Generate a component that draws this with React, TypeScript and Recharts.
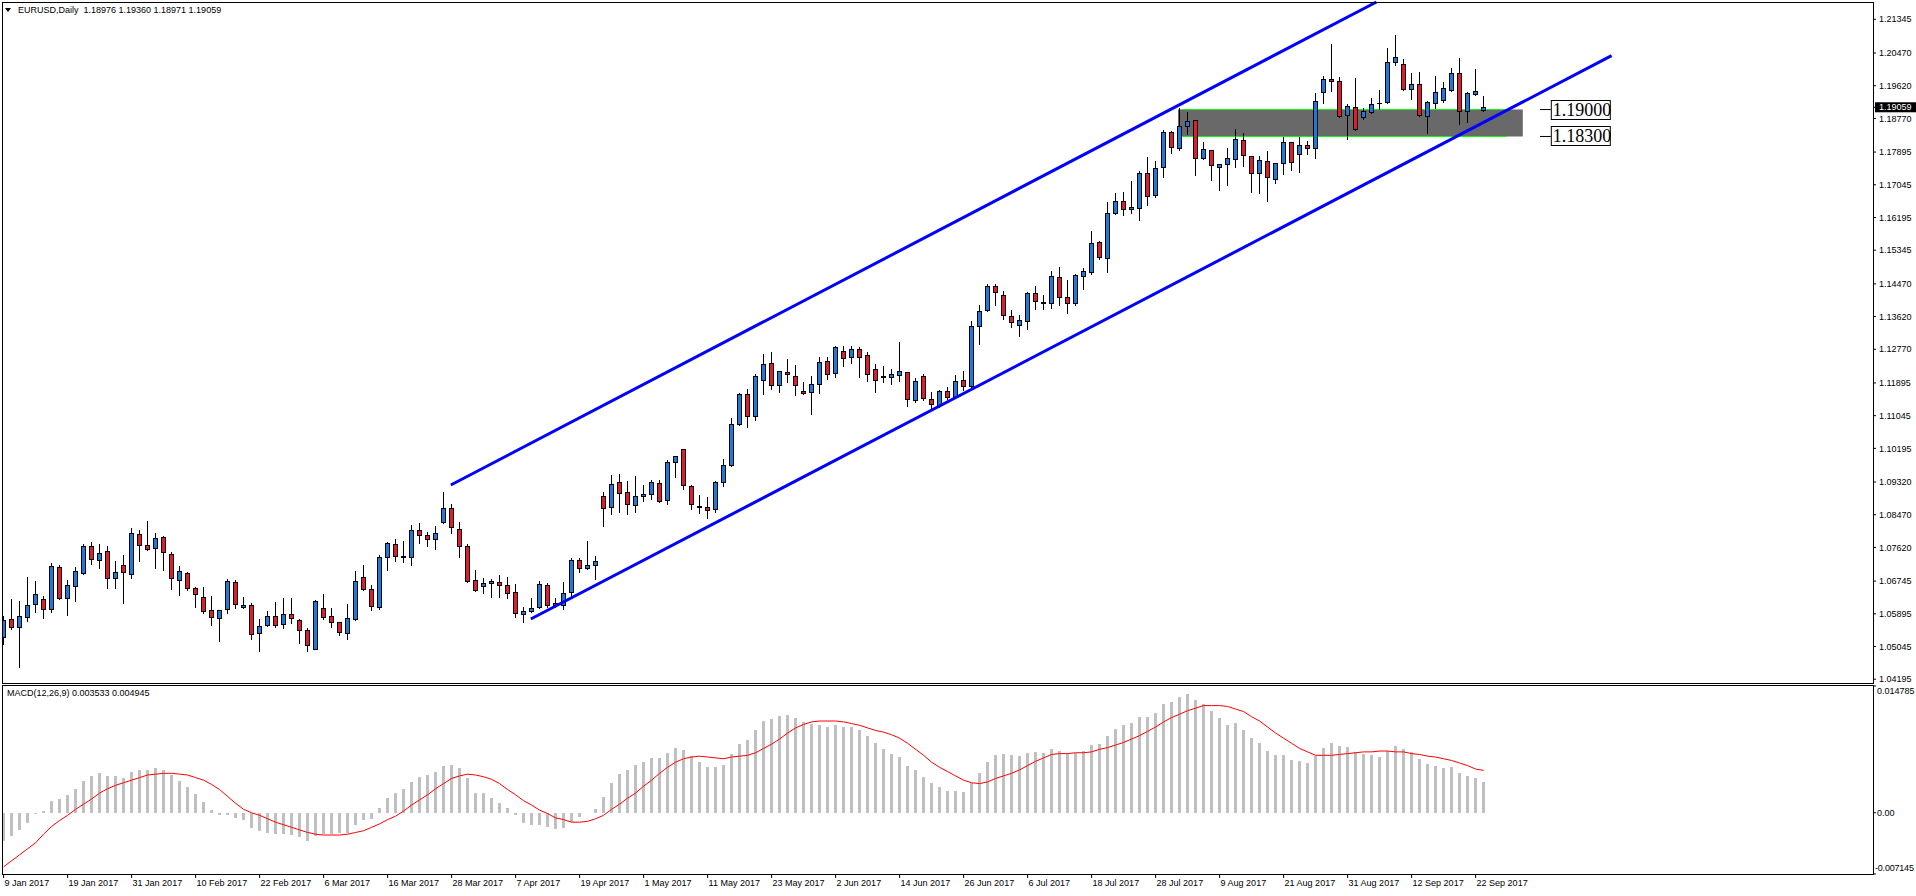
import React from 'react'
import { ComposedChart, Bar, Line, XAxis, YAxis, ReferenceLine, ReferenceArea } from 'recharts'

// EURUSD daily candles, 9 Jan 2017 .. 25 Sep 2017 (one entry per trading day)
const OPEN = [
  1.05283, 1.05751, 1.05543, 1.05803, 1.06141, 1.06271, 1.06011, 1.07102, 1.06297, 1.06626,
  1.06946, 1.07657, 1.07284, 1.07518, 1.06816, 1.07154, 1.0692, 1.07969, 1.07674, 1.07596,
  1.079, 1.0744, 1.06764, 1.06965, 1.06565, 1.06331, 1.05993, 1.05777, 1.06011, 1.06721,
  1.06063, 1.06123, 1.05387, 1.05595, 1.05837, 1.05621, 1.05881, 1.05745, 1.05465, 1.04989,
  1.06045, 1.05837, 1.0567, 1.05387, 1.05751, 1.06851, 1.06539, 1.0608, 1.07362, 1.07709,
  1.07388, 1.07362, 1.08073, 1.07934, 1.0783, 1.08272, 1.08644, 1.0809, 1.07657, 1.06773,
  1.06608, 1.06686, 1.06721, 1.06643, 1.06453, 1.05881, 1.05959, 1.06063, 1.06634, 1.06167,
  1.06115, 1.06471, 1.07294, 1.07094, 1.07172, 1.08948, 1.0868, 1.09312, 1.09052, 1.08714,
  1.08948, 1.09, 1.09286, 1.08862, 1.09832, 1.1017, 1.09208, 1.08697, 1.0868, 1.08628,
  1.09312, 1.09771, 1.10837, 1.11599, 1.11027, 1.11963, 1.12405, 1.11833, 1.12171, 1.12067,
  1.11677, 1.11651, 1.11859, 1.12457, 1.12145, 1.12717, 1.12561, 1.12769, 1.12613, 1.12249,
  1.12067, 1.12041, 1.12093, 1.12171, 1.11443, 1.12067, 1.11469, 1.11313, 1.11677, 1.11521,
  1.11963, 1.11807, 1.13366, 1.13782, 1.14406, 1.14172, 1.13626, 1.13392, 1.13496, 1.14224,
  1.1399, 1.13964, 1.14639, 1.1412, 1.13964, 1.14665, 1.14769, 1.15549, 1.15133, 1.16303,
  1.16615, 1.16407, 1.16433, 1.17342, 1.1677, 1.17498, 1.18408, 1.17992, 1.18564, 1.1872,
  1.17732, 1.1794, 1.17498, 1.17576, 1.17706, 1.182, 1.17784, 1.17342, 1.17654, 1.17186,
  1.17602, 1.18148, 1.17836, 1.1807, 1.17992, 1.19447, 1.19785, 1.19733, 1.1885, 1.19057,
  1.18798, 1.18927, 1.1917, 1.19187, 1.20227, 1.20175, 1.19525, 1.19655, 1.18824, 1.19161,
  1.19239, 1.19499, 1.19941, 1.18954, 1.19395, 1.18976,
]
const HIGH = [
  1.05837, 1.06279, 1.06227, 1.06851, 1.06747, 1.06357, 1.07206, 1.07163, 1.06773, 1.07102,
  1.07709, 1.07761, 1.07709, 1.07657, 1.07267, 1.07423, 1.08125, 1.08073, 1.08306, 1.07995,
  1.07908, 1.07501, 1.07137, 1.06972, 1.06591, 1.06591, 1.06357, 1.06, 1.06799, 1.06773,
  1.0634, 1.06175, 1.0576, 1.05967, 1.06201, 1.06305, 1.06305, 1.05751, 1.05526, 1.06253,
  1.06409, 1.06045, 1.05673, 1.06149, 1.07007, 1.07163, 1.06652, 1.07423, 1.07761, 1.07839,
  1.07787, 1.08202, 1.08254, 1.08021, 1.08176, 1.09051, 1.08748, 1.0828, 1.07709, 1.07033,
  1.06825, 1.06799, 1.06903, 1.06851, 1.06669, 1.06071, 1.06305, 1.06747, 1.06686, 1.06297,
  1.06713, 1.07354, 1.07354, 1.07787, 1.07389, 1.09052, 1.09503, 1.09529, 1.09347, 1.09477,
  1.09243, 1.09373, 1.09373, 1.09892, 1.09988, 1.1017, 1.09234, 1.08974, 1.08922, 1.09338,
  1.0991, 1.10975, 1.11625, 1.11729, 1.12119, 1.12639, 1.12691, 1.12197, 1.12509, 1.12353,
  1.11911, 1.12067, 1.12561, 1.12561, 1.12855, 1.12855, 1.12855, 1.12821, 1.12691, 1.12379,
  1.12327, 1.12249, 1.1295, 1.1218, 1.12015, 1.12119, 1.11651, 1.11703, 1.11781, 1.12093,
  1.12205, 1.13505, 1.1392, 1.14458, 1.14458, 1.14276, 1.13782, 1.13652, 1.1425, 1.14406,
  1.14172, 1.14795, 1.14899, 1.14561, 1.14717, 1.14873, 1.15835, 1.15575, 1.16589, 1.16822,
  1.16849, 1.17134, 1.17394, 1.17758, 1.17654, 1.1846, 1.18434, 1.19031, 1.18927, 1.1873,
  1.18148, 1.1795, 1.1758, 1.17992, 1.18486, 1.18382, 1.1779, 1.17784, 1.17914, 1.1761,
  1.18278, 1.18155, 1.18278, 1.18174, 1.19421, 1.19863, 1.20695, 1.19837, 1.19135, 1.19811,
  1.19031, 1.19291, 1.19499, 1.20591, 1.20929, 1.20305, 1.19941, 1.19967, 1.19213, 1.19863,
  1.19707, 1.20071, 1.20331, 1.19447, 1.20045, 1.1936,
]
const LOW = [
  1.05101, 1.05508, 1.04521, 1.05716, 1.0595, 1.05794, 1.0595, 1.0628, 1.05872, 1.06236,
  1.0693, 1.07198, 1.07094, 1.06574, 1.06574, 1.06184, 1.06834, 1.07276, 1.0756, 1.07094,
  1.07042, 1.06548, 1.06392, 1.06505, 1.0608, 1.05924, 1.05612, 1.05196, 1.05907, 1.06054,
  1.06037, 1.05248, 1.04937, 1.0558, 1.0556, 1.05517, 1.05664, 1.05144, 1.04937, 1.04971,
  1.05751, 1.0556, 1.05352, 1.05248, 1.05725, 1.0652, 1.06002, 1.06028, 1.07042, 1.07276,
  1.0725, 1.07172, 1.07743, 1.07665, 1.07587, 1.0826, 1.07986, 1.0738, 1.06712, 1.06495,
  1.06427, 1.0634, 1.0634, 1.06297, 1.05803, 1.0569, 1.05933, 1.0605, 1.0608, 1.06081,
  1.06029, 1.06367, 1.06982, 1.07068, 1.06808, 1.08177, 1.08498, 1.0855, 1.08498, 1.0855,
  1.08836, 1.08888, 1.0881, 1.0874, 1.09459, 1.09147, 1.08628, 1.08524, 1.08394, 1.0855,
  1.09226, 1.09745, 1.10811, 1.10759, 1.10941, 1.11616, 1.11746, 1.11668, 1.11911, 1.1159,
  1.1162, 1.11097, 1.11642, 1.12006, 1.12041, 1.12344, 1.12405, 1.12041, 1.11937, 1.11668,
  1.11911, 1.11859, 1.11937, 1.11305, 1.11391, 1.11443, 1.11209, 1.11261, 1.11469, 1.11495,
  1.1172, 1.11763, 1.12915, 1.13756, 1.13912, 1.13548, 1.13357, 1.13123, 1.13288, 1.13808,
  1.13808, 1.13834, 1.13912, 1.13704, 1.13912, 1.14345, 1.14717, 1.15107, 1.14787, 1.16277,
  1.16251, 1.16303, 1.16121, 1.16511, 1.16719, 1.17238, 1.17862, 1.1794, 1.18356, 1.1729,
  1.17706, 1.1716, 1.169, 1.1703, 1.17498, 1.17524, 1.16848, 1.16822, 1.16614, 1.17082,
  1.17316, 1.1742, 1.17368, 1.17836, 1.17732, 1.19161, 1.19473, 1.18798, 1.18226, 1.1848,
  1.18746, 1.1892, 1.19005, 1.1918, 1.20149, 1.19499, 1.19265, 1.18845, 1.18382, 1.19031,
  1.19187, 1.1949, 1.18616, 1.18668, 1.19369, 1.18971,
]
const CLOSE = [
  1.05734, 1.05543, 1.05829, 1.06115, 1.06401, 1.06011, 1.07128, 1.06297, 1.06634, 1.07007,
  1.07657, 1.07328, 1.07466, 1.06816, 1.06972, 1.06972, 1.07995, 1.07674, 1.0757, 1.07856,
  1.07501, 1.06816, 1.07007, 1.06557, 1.06401, 1.05959, 1.05803, 1.05993, 1.06747, 1.06141,
  1.06123, 1.05361, 1.05578, 1.05837, 1.05595, 1.05881, 1.05777, 1.05465, 1.05075, 1.06227,
  1.05803, 1.05673, 1.05413, 1.05786, 1.06747, 1.06531, 1.06089, 1.07371, 1.07735, 1.07388,
  1.07362, 1.08073, 1.07934, 1.0783, 1.07995, 1.08644, 1.08142, 1.07648, 1.06738, 1.06505,
  1.06686, 1.06747, 1.06634, 1.06427, 1.05907, 1.05959, 1.06045, 1.0666, 1.06123, 1.06115,
  1.06427, 1.07294, 1.07094, 1.07155, 1.07259, 1.08654, 1.0926, 1.09044, 1.0874, 1.08948,
  1.09009, 1.09312, 1.08836, 1.09832, 1.09988, 1.09234, 1.0874, 1.0868, 1.08602, 1.09312,
  1.09754, 1.10819, 1.11599, 1.11027, 1.12067, 1.12379, 1.11833, 1.12197, 1.12119, 1.11833,
  1.11625, 1.11859, 1.12431, 1.12119, 1.12821, 1.12535, 1.12769, 1.12561, 1.12119, 1.11963,
  1.12041, 1.12119, 1.12197, 1.11469, 1.11937, 1.11495, 1.11339, 1.11677, 1.11521, 1.11937,
  1.11807, 1.13366, 1.13756, 1.14406, 1.1425, 1.13652, 1.1347, 1.13522, 1.14224, 1.14016,
  1.13975, 1.14665, 1.1412, 1.13964, 1.14691, 1.14795, 1.15523, 1.15159, 1.16303, 1.16615,
  1.16407, 1.16459, 1.17342, 1.16744, 1.17472, 1.18408, 1.18018, 1.18564, 1.18694, 1.17732,
  1.17966, 1.1755, 1.17576, 1.17732, 1.18226, 1.1781, 1.17342, 1.1768, 1.17238, 1.17602,
  1.18148, 1.17628, 1.1807, 1.17992, 1.19213, 1.19785, 1.19733, 1.18824, 1.19083, 1.18486,
  1.18954, 1.19135, 1.19175, 1.20227, 1.20357, 1.19525, 1.19655, 1.1885, 1.19187, 1.19447,
  1.19551, 1.19941, 1.18954, 1.19421, 1.19473, 1.19059,
]

// MACD(12,26,9): main line (histogram) and signal line
const MACD_MAIN = [
  -0.00327, -0.00268, -0.00202, -0.00117, -0.00019, 0.00019, 0.00136, 0.00159, 0.00206, 0.00276,
  0.00369, 0.00424, 0.00463, 0.00428, 0.00428, 0.00404, 0.00474, 0.00498, 0.00498, 0.00521,
  0.00498, 0.00439, 0.00369, 0.00303, 0.00218, 0.00124, 0.00031, -0.00027, -0.00023, -0.00058,
  -0.00086, -0.00175, -0.00214, -0.00233, -0.00253, -0.00253, -0.00264, -0.0028, -0.00327, -0.00268,
  -0.00249, -0.00249, -0.00241, -0.00233, -0.00144, -0.00089, -0.0007, 0.00054, 0.00175, 0.00226,
  0.00276, 0.00358, 0.00416, 0.00439, 0.00474, 0.0054, 0.00556, 0.00521, 0.00404, 0.00233,
  0.00233, 0.00167, 0.00117, 0.00054, -0.00027, -0.00117, -0.00148, -0.00148, -0.00167, -0.00187,
  -0.00175, -0.00105, -0.00047, -0.00008, 0.00043, 0.00183, 0.00346, 0.00447, 0.00498, 0.00556,
  0.00587, 0.00638, 0.00638, 0.00696, 0.00758, 0.00735, 0.00665, 0.00591, 0.00533, 0.00533,
  0.00556, 0.0068, 0.00801, 0.00848, 0.00964, 0.01069, 0.01093, 0.01128, 0.01139, 0.01104,
  0.01058, 0.01034, 0.01023, 0.00999, 0.01023, 0.00999, 0.00999, 0.00964, 0.00894, 0.00813,
  0.00743, 0.00684, 0.00649, 0.00544, 0.00498, 0.00416, 0.00346, 0.00299, 0.00253, 0.00253,
  0.00241, 0.00346, 0.00463, 0.00591, 0.00673, 0.00684, 0.00673, 0.00661, 0.00696, 0.00708,
  0.00696, 0.00743, 0.00719, 0.00696, 0.00696, 0.00719, 0.00789, 0.00801, 0.00894, 0.00976,
  0.01023, 0.01046, 0.01116, 0.01116, 0.01163, 0.01268, 0.01291, 0.01349, 0.01384, 0.01314,
  0.01268, 0.01186, 0.01104, 0.01023, 0.01046, 0.00964, 0.00871, 0.00813, 0.00719, 0.00673,
  0.00673, 0.00614, 0.00603, 0.00579, 0.00661, 0.00754, 0.00813, 0.00778, 0.00766, 0.00708,
  0.00684, 0.00673, 0.00649, 0.00719, 0.00778, 0.00743, 0.00708, 0.00626, 0.00568, 0.00544,
  0.00521, 0.00533, 0.00463, 0.00428, 0.00404, 0.003533,
]
const MACD_SIGNAL = [
  -0.0063, -0.0056, -0.0049, -0.0042, -0.0035, -0.0025, -0.0016, -0.0009, -0.0003, 0.0004,
  0.001, 0.0016, 0.0023, 0.0028, 0.0032, 0.0035, 0.0038, 0.0041, 0.0044, 0.0045,
  0.0046, 0.0046, 0.0045, 0.0044, 0.0041, 0.0038, 0.0033, 0.0027, 0.0019, 0.0011,
  0.0004, 0.0, -0.0003, -0.0007, -0.0011, -0.0014, -0.0017, -0.002, -0.0023, -0.0025,
  -0.0026, -0.0026, -0.0026, -0.0025, -0.0023, -0.0021, -0.0017, -0.0013, -0.0008, -0.0004,
  0.0002, 0.0009, 0.0015, 0.0021, 0.0028, 0.0034, 0.004, 0.0043, 0.0045, 0.0044,
  0.0042, 0.0039, 0.0034, 0.0027, 0.0021, 0.0014, 0.0009, 0.0003, -0.0001, -0.0006,
  -0.0008, -0.0011, -0.0011, -0.001, -0.0007, -0.0003, 0.0004, 0.001, 0.0017, 0.0023,
  0.0031, 0.0038, 0.0046, 0.0053, 0.0059, 0.0063, 0.0065, 0.0066, 0.0065, 0.0064,
  0.0063, 0.0065, 0.0066, 0.0067, 0.007, 0.0075, 0.008, 0.0086, 0.0093, 0.0099,
  0.0103, 0.0106, 0.0107, 0.0107, 0.0107, 0.0106, 0.0104, 0.0102, 0.0099, 0.0096,
  0.0094, 0.0091, 0.0087, 0.0081, 0.0074, 0.0067, 0.0059, 0.0053, 0.0048, 0.0043,
  0.0038, 0.0035, 0.0034, 0.0036, 0.004, 0.0043, 0.0046, 0.005, 0.0055, 0.006,
  0.0064, 0.0068, 0.0069, 0.0069, 0.007, 0.007, 0.0071, 0.0074, 0.0076, 0.0079,
  0.0082, 0.0086, 0.009, 0.0095, 0.01, 0.0106, 0.0111, 0.0115, 0.0119, 0.0122,
  0.0125, 0.0125, 0.0125, 0.0124, 0.0121, 0.0118, 0.0112, 0.0107, 0.01, 0.0093,
  0.0087, 0.0081, 0.0075, 0.0071, 0.0067, 0.0067, 0.0067, 0.0068, 0.0069, 0.007,
  0.0071, 0.0071, 0.0072, 0.0072, 0.0071, 0.0071, 0.0069, 0.0068, 0.0066, 0.0065,
  0.0063, 0.0061, 0.0058, 0.0055, 0.0051, 0.004945,
]

const DATE_TICKS = [0, 8, 16, 24, 32, 40, 48, 56, 64, 72, 80, 88, 96, 104, 112, 120, 128, 136, 144, 152, 160, 168, 176, 184]
const DATE_LABELS = [
  '9 Jan 2017', '19 Jan 2017', '31 Jan 2017', '10 Feb 2017', '22 Feb 2017', '6 Mar 2017',
  '16 Mar 2017', '28 Mar 2017', '7 Apr 2017', '19 Apr 2017', '1 May 2017', '11 May 2017',
  '23 May 2017', '2 Jun 2017', '14 Jun 2017', '26 Jun 2017', '6 Jul 2017', '18 Jul 2017',
  '28 Jul 2017', '9 Aug 2017', '21 Aug 2017', '31 Aug 2017', '12 Sep 2017', '22 Sep 2017',
]
const PRICE_TICKS = [
  1.21345, 1.2047, 1.1962, 1.19059, 1.1877, 1.17895, 1.17045, 1.16195, 1.15345, 1.1447, 1.1362,
  1.1277, 1.11895, 1.11045, 1.10195, 1.0932, 1.0847, 1.0762, 1.06745, 1.05895, 1.05045, 1.04195,
]
const LAST_PRICE = 1.19059
const MACD_TICKS = [-0.007145, 0, 0.014785]

// drawn objects (in bar index / price units)
const UPPER_CHANNEL = [{ x: 55.9, y: 1.09243 }, { x: 171.6, y: 1.21795 }]
const LOWER_CHANNEL = [{ x: 65.9, y: 1.0576 }, { x: 201, y: 1.204 }]
const ZONE = { x1: 146.8, x2: 189.9, top: 1.19, bottom: 1.183 }
const ZONE_LINE_X = [147.3, 187.9]
const TAG_X = [192.05, 193.4]

const X_DOMAIN = [-0.2, 233.675]
const PRICE_DOMAIN = [1.04097, 1.21795]

const BULL = '#1f78dc'
const BEAR = '#dc1e2d'
const FONT = "'Liberation Sans', Arial, sans-serif"

const candles = OPEN.map((o, i) => ({ i, o, h: HIGH[i], l: LOW[i], c: CLOSE[i] }))
const macdRows = MACD_MAIN.map((m, i) => ({ i, macd: m, signal: MACD_SIGNAL[i] }))

const Candle = (props: any) => {
  const { x, y, width, height, payload } = props
  if (!payload) return null
  const cx = Math.floor(x + width / 2) + 0.5
  const span = payload.h - payload.l
  const k = span > 0 ? height / span : 0
  const yO = y + (payload.h - payload.o) * k
  const yC = y + (payload.h - payload.c) * k
  const top = Math.round(Math.min(yO, yC)) + 0.5
  const bot = Math.round(Math.max(yO, yC)) + 0.5
  const up = payload.c >= payload.o
  return (
    <g>
      <line x1={cx} x2={cx} y1={Math.round(y)} y2={Math.round(y + height) + 1} stroke="#000" strokeWidth={1} />
      {bot - top >= 1 ? (
        <rect x={cx - 2} y={top} width={4} height={bot - top} fill={up ? BULL : BEAR} stroke="#000" strokeWidth={1} />
      ) : (
        <line x1={cx - 2.5} x2={cx + 2.5} y1={top} y2={top} stroke="#000" strokeWidth={1} />
      )}
    </g>
  )
}

const PriceTick = (props: any) => {
  const { x, y, payload } = props
  const v = payload.value
  const label = v.toFixed(5)
  if (v === LAST_PRICE) {
    return (
      <g>
        <rect x={x - 4} y={y - 5} width={41} height={10} fill="#000" />
        <text x={x} y={y} dy="0.35em" fontSize={9} fontFamily={FONT} fill="#fff">{label}</text>
      </g>
    )
  }
  return <text x={x} y={y} dy="0.35em" fontSize={9} fontFamily={FONT} fill="#000">{label}</text>
}

const MacdTick = (props: any) => {
  const { x, y, payload } = props
  const v = payload.value
  const label = v === 0 ? '0.00' : v.toFixed(6)
  const shift = v === MACD_TICKS[2] ? 5 : v === MACD_TICKS[0] ? -6 : 0
  const left = v < 0 ? x - 4 : x - 2
  return (
    <text x={left} y={y + shift} dy="0.35em" fontSize={9} fontFamily={FONT} fill="#000" letterSpacing={v < 0 ? -0.2 : 0}>
      {label}
    </text>
  )
}

const DateTick = (props: any) => {
  const { x, y, payload } = props
  const label = DATE_LABELS[DATE_TICKS.indexOf(payload.value)]
  return <text x={x + 1} y={y} dy="0.71em" fontSize={9} fontFamily={FONT} fill="#000">{label}</text>
}

const LevelTag = (props: any) => {
  const { viewBox, text } = props
  if (!viewBox) return null
  const x = viewBox.x + viewBox.width
  const y = Math.round(viewBox.y)
  return (
    <g>
      <rect x={x + 0.5} y={y - 9.5} width={59} height={19} fill="#fff" stroke="#000" strokeWidth={1} />
      <text x={x + 2} y={y} dy="0.36em" fontSize={18} fontFamily="'Liberation Serif', 'Times New Roman', serif" fill="#000">{text}</text>
    </g>
  )
}

export default function App() {
  return (
    <div style={{ position: 'absolute', left: 0, top: 0, width: 1916, height: 896, background: '#fff', overflow: 'hidden', fontFamily: FONT }}>
      <div style={{ position: 'absolute', left: 0, top: 0 }}>
        <ComposedChart width={1916} height={684} data={candles} margin={{ top: 2, right: 0, bottom: 1, left: 2 }}>
          <XAxis type="number" dataKey="i" domain={X_DOMAIN} hide allowDataOverflow />
          <YAxis
            orientation="right"
            width={43}
            type="number"
            domain={PRICE_DOMAIN}
            ticks={PRICE_TICKS}
            interval={0}
            allowDataOverflow
            axisLine={false}
            tickLine={{ stroke: '#000' }}
            tickSize={3}
            tickMargin={3}
            tick={<PriceTick />}
          />
          <ReferenceArea x1={ZONE.x1} x2={ZONE.x2} y1={ZONE.bottom} y2={ZONE.top} fill="#696969" fillOpacity={1} stroke="none" zIndex={50} />
          <ReferenceLine segment={[{ x: ZONE_LINE_X[0], y: ZONE.top }, { x: ZONE_LINE_X[1], y: ZONE.top }]} stroke="#00ff00" strokeWidth={1} zIndex={60} />
          <ReferenceLine segment={[{ x: ZONE_LINE_X[0], y: ZONE.bottom }, { x: ZONE_LINE_X[1], y: ZONE.bottom }]} stroke="#00ff00" strokeWidth={1} zIndex={60} />
          <Bar
            dataKey={(d: any) => [d.l, d.h]}
            barSize={5}
            isAnimationActive={false}
            shape={(p: any) => <Candle {...p} />}
          />
          <ReferenceLine segment={UPPER_CHANNEL} stroke="#0000ff" strokeWidth={3} zIndex={450} />
          <ReferenceLine segment={LOWER_CHANNEL} stroke="#0000ff" strokeWidth={3} zIndex={450} />
          <ReferenceLine
            segment={[{ x: TAG_X[0], y: ZONE.top }, { x: TAG_X[1], y: ZONE.top }]}
            stroke="#000"
            strokeWidth={1}
            ifOverflow="visible"
            label={<LevelTag text="1.19000" />}
            zIndex={460}
          />
          <ReferenceLine
            segment={[{ x: TAG_X[0], y: ZONE.bottom }, { x: TAG_X[1], y: ZONE.bottom }]}
            stroke="#000"
            strokeWidth={1}
            ifOverflow="visible"
            label={<LevelTag text="1.18300" />}
            zIndex={460}
          />
        </ComposedChart>
      </div>

      <div style={{ position: 'absolute', left: 0, top: 685 }}>
        <ComposedChart width={1916} height={211} data={macdRows} margin={{ top: 1, right: 0, bottom: 0, left: 2 }}>
          <XAxis
            type="number"
            dataKey="i"
            domain={X_DOMAIN}
            allowDataOverflow
            ticks={DATE_TICKS}
            interval={0}
            height={22}
            axisLine={false}
            tickLine={{ stroke: '#000' }}
            tickSize={4}
            tickMargin={2}
            tick={<DateTick />}
          />
          <YAxis
            orientation="right"
            width={43}
            type="number"
            domain={[MACD_TICKS[0], MACD_TICKS[2]]}
            ticks={MACD_TICKS}
            interval={0}
            allowDataOverflow
            axisLine={false}
            tickLine={{ stroke: '#000' }}
            tickSize={3}
            tickMargin={3}
            tick={<MacdTick />}
          />
          <Bar dataKey="macd" fill="#c0c0c0" barSize={3} isAnimationActive={false} shapeRendering="crispEdges" />
          <Line dataKey="signal" type="linear" stroke="#ff0000" strokeWidth={1} dot={false} activeDot={false} isAnimationActive={false} />
        </ComposedChart>
      </div>

      {/* pane frames */}
      <div style={{ position: 'absolute', left: 2, top: 2, width: 1872, height: 682, border: '1px solid #000', boxSizing: 'border-box', pointerEvents: 'none' }} />
      <div style={{ position: 'absolute', left: 2, top: 685, width: 1872, height: 190, border: '1px solid #000', boxSizing: 'border-box', pointerEvents: 'none' }} />

      {/* headers */}
      <svg style={{ position: 'absolute', left: 5, top: 8 }} width={6} height={5}>
        <polygon points="0,0 6,0 3,4" fill="#000" />
      </svg>
      <div style={{ position: 'absolute', left: 18, top: 5, fontSize: 9, lineHeight: '11px', color: '#000', whiteSpace: 'pre' }}>
        {'EURUSD,Daily  1.18976 1.19360 1.18971 1.19059'}
      </div>
      <div style={{ position: 'absolute', left: 7, top: 688, fontSize: 9, lineHeight: '11px', color: '#000', whiteSpace: 'pre' }}>
        {'MACD(12,26,9) 0.003533 0.004945'}
      </div>
    </div>
  )
}
